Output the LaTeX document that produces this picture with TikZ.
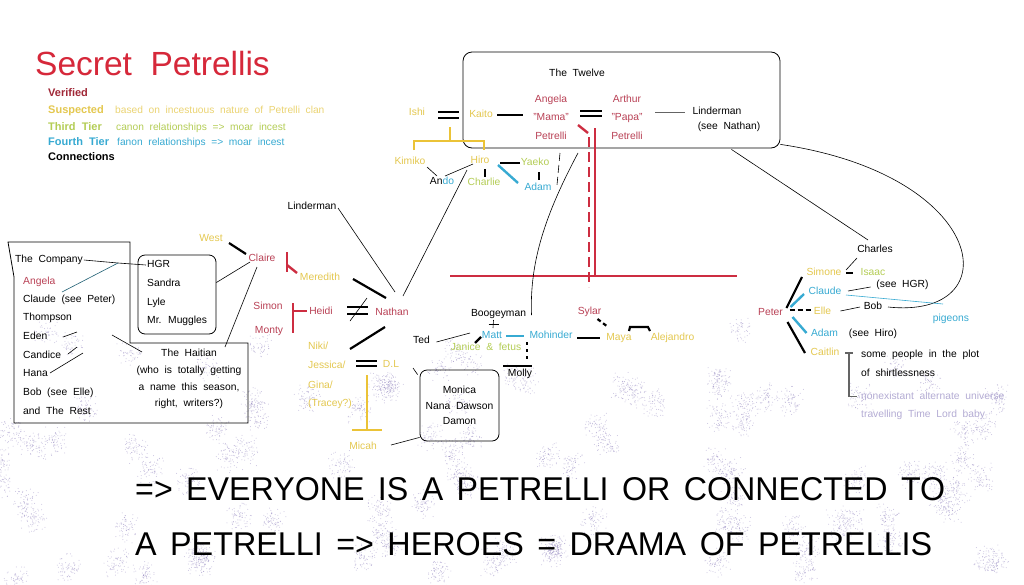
\documentclass[tikz,border=0pt]{standalone}
\usepackage{fontspec}
\setmainfont{Liberation Sans}[WordSpace=2]
\newfontfamily\slogfont{Liberation Sans}[WordSpace=1.5]
\usepackage{graphicx}
\usetikzlibrary{calc}

\definecolor{ctitle}{RGB}{214,40,58}
\definecolor{cverified}{RGB}{160,40,55}
\definecolor{cpetr}{RGB}{185,65,85}
\definecolor{csusp}{RGB}{228,200,80}
\definecolor{csuspnote}{RGB}{235,212,115}
\definecolor{ctier3}{RGB}{180,205,85}
\definecolor{ctier4}{RGB}{55,170,210}
\definecolor{cfaint}{RGB}{180,172,212}
\definecolor{credline}{RGB}{205,45,65}
\definecolor{cyline}{RGB}{235,195,55}
\definecolor{cgrayline}{RGB}{100,100,100}
\definecolor{cteal}{RGB}{30,95,115}
\definecolor{cspeck}{RGB}{135,120,185}

\begin{document}
\begin{tikzpicture}[
    x=1pt, y=-1pt,
    txt/.style={font=\fontsize{10.3}{12}\selectfont, inner sep=1pt},
    who/.style={txt, text height=7.5pt, text depth=2pt},
    petr/.style={who, text=cpetr},
    susp/.style={who, text=csusp},
    tierthree/.style={who, text=ctier3},
    tierfour/.style={who, text=ctier4},
    legend/.style={anchor=base west, inner sep=0pt, font=\fontsize{11}{12}\selectfont\bfseries},
    note/.style={anchor=base west, inner sep=0pt, font=\fontsize{10.2}{12}\selectfont},
    link/.style={line width=0.6pt},
    bond/.style={line width=2.2pt},
    eq/.style={line width=2pt, double=white, double distance=3pt},
    redbar/.style={draw=credline, line width=2.4pt},
    ybar/.style={draw=cyline, line width=2.4pt},
    bluebar/.style={draw=ctier4, line width=2.4pt},
    roundbox/.style={draw, rounded corners=7pt, line width=0.8pt},
    speck/.style={fill=cspeck, fill opacity=0.45},
    slogantext/.style={anchor=base west, inner sep=0pt}
]
\fill[white] (0,0) rectangle (1024,584);
\useasboundingbox (0,0) rectangle (1024,584);

% speckled background
\pgfmathsetseed{42}
\foreach \k in {1,...,90}{
  \pgfmathsetmacro{\cx}{rnd*1024}
  \pgfmathsetmacro{\cy}{385+rnd*199}
  \foreach \d in {1,...,70}
    \fill[speck] ({\cx+7*(rand+rand)},{\cy+8*(rand+rand)}) circle (0.5);
}
\foreach \k in {1,...,14}{
  \pgfmathsetmacro{\cx}{rnd*1024}
  \pgfmathsetmacro{\cy}{330+rnd*60}
  \foreach \d in {1,...,50}
    \fill[speck] ({\cx+7*(rand+rand)},{\cy+7*(rand+rand)}) circle (0.5);
}

% title and legend
\node[anchor=base west, inner sep=0pt, font=\fontsize{33.5}{36}\selectfont, text=ctitle] (title) at (35,75) {Secret Petrellis};
\node[legend, text=cverified] (verified) at (48,96) {Verified};
\node[legend, text=csusp] (suspected) at (48,113) {Suspected};
\node[legend, text=ctier3] (thirdtier) at (48,130) {Third Tier};
\node[legend, text=ctier4] (fourthtier) at (48,145) {Fourth Tier};
\node[legend] (connections) at (48,160) {Connections};
\node[note, text=csuspnote] (suspnote) at (115,113) {based on incestuous nature of Petrelli clan};
\node[note, text=ctier3] (canonnote) at (116,130) {canon relationships => moar incest};
\node[note, text=ctier4] (fanonnote) at (117,145) {fanon relationships => moar incest};

% The Twelve
\node[roundbox, minimum width=317pt, minimum height=96pt, rounded corners=9pt] (twelve) at (621.5,100) {};
\node[who] (twelvetitle) at (577,74) {The Twelve};
\node[txt, text=cpetr, align=center, font=\fontsize{10.3}{18.5}\selectfont] (angela) at (551,117) {Angela\\"Mama"\\Petrelli};
\node[txt, text=cpetr, align=center, font=\fontsize{10.3}{18.5}\selectfont] (arthur) at (627,117) {Arthur\\"Papa"\\Petrelli};
\node[who] (lindtop) at (717,112) {Linderman};
\node[who] (lindsee) at (729,127) {(see Nathan)};
\node[susp] (ishi) at (417,113) {Ishi};
\node[susp] (kaito) at (481,115) {Kaito};
\node[susp] (kimiko) at (410,162) {Kimiko};
\node[susp] (hiro) at (480,161) {Hiro};
\node[who] (ando) at (442,182) {An\textcolor{ctier4}{do}};
\node[tierthree] (charlie) at (484,183) {Charlie};
\node[tierthree] (yaeko) at (535,163) {Yaeko};
\node[tierfour] (adam) at (538,188) {Adam};

\draw[eq, double distance=2.8pt] ($(angela)+(29,-3.5)$) -- ($(arthur)+(-25,-3.5)$);
\draw[bond] ($(kaito)+(16,0)$) -- ($(angela)+(-28,-2)$);
\draw[link, draw=cgrayline] ($(arthur)+(28,-5)$) -- ($(lindtop)+(-32,0)$);
\draw[eq, double distance=3.8pt] ($(ishi)+(21,2)$) -- ($(kaito)+(-22,0)$);
\draw[ybar] ($(ishi)+(33,14)$) -- ++(0,14);
\draw[ybar] ($(kimiko)+(4,-12)$) |- ($(ishi)+(33,28)$) -| ($(hiro)+(4,-11)$);
\draw[link] ($(kimiko)+(17,5)$) -- ($(ando)+(-5,-6)$);
\draw[link] ($(hiro)+(-7,3)$) -- ($(ando)+(3,-6)$);
\draw[bond] ($(hiro)+(5,8)$) -- ($(charlie)+(1,-6)$);
\draw[bond] ($(hiro)+(20,2)$) -- ($(yaeko)+(-15,0)$);
\draw[bluebar] ($(hiro)+(18,4)$) -- ($(adam)+(-20,-5)$);
\draw[bond] ($(yaeko)+(4,9)$) -- ($(adam)+(1,-8)$);
\draw[link, dash pattern=on 8pt off 4pt] ($(angela)+(9,36)$) -- ($(adam)+(19,-3)$);

% red cross
\coordinate (redwest) at (450,276);
\coordinate (redeast) at (737,276);
\draw[redbar] ($(angela)+(27,8)$) -- ($(angela)+(37,16)$);
\draw[redbar, dash pattern=on 10pt off 5pt] ($(angela)+(38,20)$) -- ++(0,150);
\draw[redbar] ($(arthur)+(-32,11)$) -- ++(0,148);
\draw[redbar] (redwest) -- (redeast);

% Nathan and family
\node[who] (linderman) at (312,207) {Linderman};
\node[susp] (west) at (211,239) {West};
\node[petr] (claire) at (262,259) {Claire};
\node[susp] (meredith) at (320,278) {Meredith};
\node[petr] (simon) at (268,307) {Simon};
\node[petr] (monty) at (269,331) {Monty};
\node[petr] (heidi) at (321,312) {Heidi};
\node[petr] (nathan) at (392,313) {Nathan};
\node[susp, anchor=west] (niki) at (307,347) {Niki/};
\node[susp, anchor=west] (jessica) at (307,366) {Jessica/};
\node[susp, anchor=west] (gina) at (307,386) {Gina/};
\node[susp, anchor=west] (tracey) at (307,404) {(Tracey?)};
\node[susp] (dl) at (391,365) {D.L};
\node[susp] (micah) at (363,447) {Micah};
\node[roundbox, txt, align=center, font=\fontsize{10.3}{15.5}\selectfont, minimum width=79pt, minimum height=71pt] (monica) at (459.5,405.5) {Monica\\Nana Dawson\\Damon};

\draw[link] ($(linderman)+(26,1)$) -- ($(nathan)+(3,-21)$);
\draw[link] ($(nathan)+(11,-17)$) -- ($(hiro)+(-13,9)$);
\draw[bond] ($(west)+(18,4)$) -- ($(claire)+(-16,-5)$);
\draw[redbar] ($(claire)+(25,-7)$) -- ++(0,20);
\draw[redbar] ($(claire)+(25,6)$) -- ($(meredith)+(-23,-5)$);
\draw[bond] ($(meredith)+(33,1)$) -- ($(nathan)+(-6,-15)$);
\draw[redbar] ($(simon)+(25,-4)$) -- ($(monty)+(24,2)$);
\draw[redbar] ($(simon)+(25,4)$) -- ($(heidi)+(-14,-1)$);
\draw[eq, double distance=4.4pt] ($(heidi)+(26,-1.5)$) -- ($(nathan)+(-24,-2.5)$);
\draw[link] ($(heidi)+(29,9)$) -- ($(nathan)+(-25,-15)$);
\draw[bond] ($(nathan)+(-7,14)$) -- ($(niki.west)+(43,2)$);
\draw[eq, double distance=2.8pt] ($(jessica.west)+(49,-2.5)$) -- ($(dl)+(-14,-1.5)$);
\draw[ybar] ($(dl)+(-24,10)$) -- ($(micah)+(4,-17)$);
\draw[ybar] ($(micah)+(-11,-17)$) -- ++(30,0);
\draw[link] ($(micah)+(28,-2)$) -- ($(monica.south west)+(0,-4)$);
\draw[link] ($(dl)+(22,3)$) -- ($(monica.north west)+(-2,5)$);

% Matt, Mohinder and Maya
\node[who] (ted) at (421.5,341) {Ted};
\node[who] (boogey) at (498.5,314) {Boogeyman};
\node[tierfour] (matt) at (492,336) {Matt};
\node[tierthree] (janice) at (486,348) {Janice \& fetus};
\node[tierfour] (mohinder) at (551,336) {Mohinder};
\node[who] (molly) at (520,374) {Molly};
\node[petr] (sylar) at (589.5,312) {Sylar};
\node[susp] (maya) at (619,338) {Maya};
\node[susp] (alejandro) at (672.5,338) {Alejandro};

\draw[link] ($(angela)+(27,36)$) .. controls +(-33,62) and +(-2,-53) .. ($(boogey)+(33,1)$);
\draw[link] ($(ted)+(15,1)$) -- ($(matt)+(-22,-3)$);
\draw[link] ($(boogey)+(-10,10)$) -- ++(10,0);
\draw[link] ($(boogey)+(-5,6)$) -- ($(matt)+(1,-8)$);
\draw[bond] ($(janice)+(-11,-5)$) -- ($(matt)+(-11,1)$);
\draw[bluebar] ($(matt)+(14,0)$) -- ($(mohinder)+(-27,0)$);
\draw[bond, dash pattern=on 3pt off 4pt] ($(mohinder)+(-24,6)$) -- ($(molly)+(7,-12)$);
\draw[bond] ($(molly)+(-17,-8)$) -- ++(29,0);
\draw[bond] ($(mohinder)+(26,2)$) -- ($(maya)+(-19,0)$);
\draw[bond, dash pattern=on 4pt off 3pt] ($(sylar)+(8,7)$) -- ($(maya)+(-11,-11)$);
\draw[bond] ($(maya)+(10,-7)$) -- ($(maya)+(11,-11)$) -- ($(alejandro)+(-24.5,-11)$) -- ($(alejandro)+(-22.5,-7)$);

% The Company
\draw[line width=0.8pt] (8,242) -- (130,242) -- (130,343) -- (248,343) -- (248,423) -- (14,423) -- (14,277) -- cycle;
\node[who, anchor=west] (company) at (14,260) {The Company};
\node[petr, anchor=west] (angelatwo) at (22,282) {Angela};
\node[who, anchor=west] (claudetwo) at (22,300) {Claude (see Peter)};
\node[who, anchor=west] (thompson) at (22,318) {Thompson};
\node[who, anchor=west] (eden) at (22,337) {Eden};
\node[who, anchor=west] (candice) at (22,356) {Candice};
\node[who, anchor=west] (hana) at (22,374) {Hana};
\node[who, anchor=west] (bobtwo) at (22,393) {Bob (see Elle)};
\node[who, anchor=west] (rest) at (22,412) {and The Rest};
\node[roundbox, minimum width=78pt, minimum height=79pt] (hgrbox) at (177,294.5) {};
\node[who, anchor=west] (hgr) at (146,265) {HGR};
\node[who, anchor=west] (sandra) at (146,284) {Sandra};
\node[who, anchor=west] (lyle) at (146,303) {Lyle};
\node[who, anchor=west] (muggles) at (146,321) {Mr. Muggles};
\node[txt, align=center, font=\fontsize{10.3}{16.7}\selectfont] (haitian) at (189,379) {The Haitian\\(who is totally getting\\a name this season,\\right, writers?)};

\coordinate (companyjoin) at (118,263);
\coordinate (haitiantail) at (112,335);
\draw[link] (company.east) -- (companyjoin) -- (hgr.west);
\draw[link, draw=cteal] ($(claudetwo.west)+(40,-8)$) -- (companyjoin);
\draw[link] ($(eden.west)+(41,0)$) -- ++(14,-5);
\draw[link] ($(candice.west)+(46,-2)$) -- ++(9,-7);
\draw[link] ($(hana.west)+(28,-1)$) -- ++(33,-20);
\draw[link] (haitiantail) -- ($(haitian)+(-47,-27)$);
\draw[link] ($(hgrbox.east)+(0,-12)$) -- ($(claire)+(-12,3)$);
\draw[link] ($(haitian)+(36,-32)$) -- ($(claire)+(-5,8)$);

% Peter
\node[who] (charles) at (875,250) {Charles};
\node[susp] (simone) at (824,273) {Simone};
\node[tierthree] (isaac) at (873,273) {Isaac};
\node[tierfour] (claude) at (825,292) {Claude};
\node[who] (seehgr) at (902.5,285) {(see HGR)};
\node[susp] (elle) at (822.5,312) {Elle};
\node[who] (bob) at (873,307) {Bob};
\node[tierfour] (pigeons) at (951,319) {pigeons};
\node[tierfour] (adamtwo) at (824.5,334) {Adam};
\node[who] (seehiro) at (873,334) {(see Hiro)};
\node[susp] (caitlin) at (825,353) {Caitlin};
\node[petr] (peter) at (770.5,313) {Peter};
\node[txt, anchor=west, align=left, font=\fontsize{10.3}{18.5}\selectfont] (shirtless) at (860,363.5) {some people in the plot\\of shirtlessness};
\node[txt, anchor=west, align=left, text=cfaint, font=\fontsize{10.3}{18}\selectfont] (nonex) at (860,405.5) {nonexistant alternate universe\\travelling Time Lord baby};

\draw[link] ($(twelve.south east)+(-49,1)$) -- ($(charles)+(-7,-10)$);
\draw[link] ($(twelve.south east)+(0,-4)$) .. controls +(210,31) and +(122,13) .. ($(bob)+(15,0)$);
\draw[bond] ($(peter)+(16,-5)$) -- ($(simone)+(-22,4)$);
\draw[bluebar] ($(peter)+(20,-6)$) -- ($(claude)+(-21,2)$);
\draw[bond, dash pattern=on 5pt off 3pt] ($(peter)+(19,-3)$) -- ($(elle)+(-10,-2)$);
\draw[bluebar] ($(peter)+(22,4)$) -- ($(adamtwo)+(-18,-1)$);
\draw[bond] ($(peter)+(17,9)$) -- ($(caitlin)+(-20,0)$);
\draw[link] ($(charles)+(-18,8)$) -- ($(simone)+(22,-3)$);
\draw[bond] ($(simone)+(22,0)$) -- ($(isaac)+(-20,0)$);
\draw[link] ($(claude)+(23,-1)$) -- ($(seehgr)+(-32,2)$);
\draw[link, draw=ctier4] ($(claude)+(21,3)$) -- ($(pigeons)+(-8,-15)$);
\draw[link] ($(elle)+(18,-1)$) -- ($(bob)+(-13,0)$);
\draw[link, draw=cgrayline, line width=1.2pt] ($(caitlin)+(20,0)$) -- ++(8,0);
\draw[link, draw=cgrayline, line width=1.2pt] ($(caitlin)+(24,0)$) |- ($(nonex.west)+(-3,-9)$);

% conclusion
\node[slogantext] (slogan) at (135,500) {\resizebox{810pt}{23pt}{\slogfont\fontsize{30}{30}\selectfont => EVERYONE IS A PETRELLI OR CONNECTED TO}};
\node[slogantext] (moral) at (135,555) {\resizebox{797pt}{23pt}{\slogfont\fontsize{30}{30}\selectfont A PETRELLI => HEROES = DRAMA OF PETRELLIS}};
\end{tikzpicture}
\end{document}
